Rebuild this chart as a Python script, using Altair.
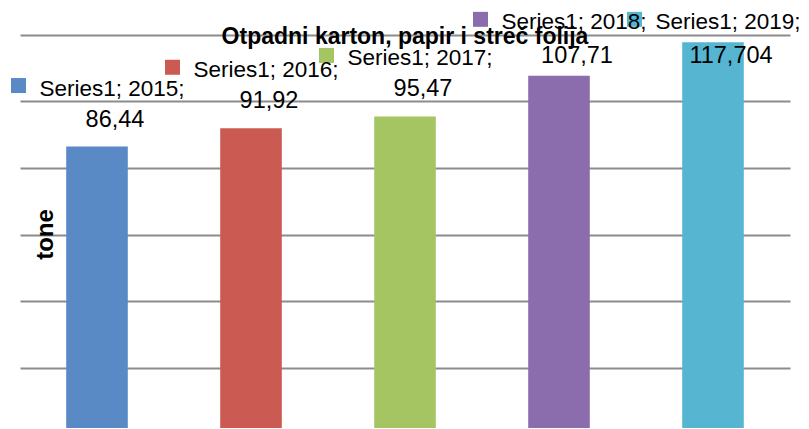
import altair as alt
import pandas as pd

years = ["2015", "2016", "2017", "2018", "2019"]
values = [86.44, 91.92, 95.47, 107.71, 117.704]
series = ["Series1"] * 5
colors = ["#5a8ac6", "#cb5a53", "#a5c562", "#8b6dae", "#56b6d2"]
grid_values = [20, 40, 60, 80, 100, 120]

df = pd.DataFrame({"year": years, "value": values, "series": series})
df["key"] = df["series"] + "; " + df["year"] + ";"
df["label"] = [str(v).replace(".", ",") for v in values]

FONT = "Liberation Sans"

x = alt.X("year:N", scale=alt.Scale(paddingInner=0.6, paddingOuter=0.3), axis=None)
color = alt.Color("year:N", scale=alt.Scale(domain=years, range=colors), legend=None)
yscale = alt.Scale(domain=[2, 128], nice=False, zero=False)

yaxis = alt.Axis(
    values=grid_values,
    grid=True,
    gridColor="#8c8c8c",
    gridWidth=2.2,
    labels=False,
    ticks=False,
    domain=False,
    titleFontSize=24,
    titleFont=FONT,
    titleFontWeight="bold",
    titleColor="#000000",
    titleX=32,
    titleY=226,
    titleAngle=270,
    titleAlign="center",
    titleBaseline="alphabetic",
)

base = alt.Chart(df)

bars = base.mark_bar(clip=True).encode(
    x=x,
    y=alt.Y("value:Q", scale=yscale, title="tone", axis=yaxis),
    color=color,
)

lab = base.transform_calculate(
    key_y="min(datum.value + 15.3, 121.6)",
    val_y="min(datum.value + 6.0, 111.6)",
    sq_y="min(datum.value + 15.3, 121.6) + 3",
)

keys = lab.mark_text(
    align="left", baseline="alphabetic", dx=-57.5,
    font=FONT, fontSize=22.5, color="#000000",
).encode(
    x=x,
    y=alt.Y("key_y:Q", scale=yscale, title="tone", axis=yaxis),
    text="key:N",
)

vals = lab.mark_text(
    align="center", baseline="alphabetic", dx=18,
    font=FONT, fontSize=23.5, color="#000000",
).encode(
    x=x,
    y=alt.Y("val_y:Q", scale=yscale, title="tone", axis=yaxis),
    text="label:N",
)

squares = lab.mark_point(shape="square", filled=True, size=225, opacity=1).encode(
    x=x,
    xOffset=alt.value(-47.7),
    y=alt.Y("sq_y:Q", scale=yscale, title="tone", axis=yaxis),
    color=color,
)

chart = alt.layer(bars, squares, keys, vals).properties(
    width=770,
    height=420,
    background="white",
    padding={"left": 12, "top": 0, "right": 11, "bottom": 0},
    autosize=alt.AutoSizeParams(type="none"),
    title=alt.TitleParams(
        "Otpadni karton, papir i streč folija",
        font=FONT,
        fontSize=23,
        fontWeight="bold",
        color="#000000",
        anchor="middle",
        frame="group",
        offset=0,
        dy=59,
        baseline="alphabetic",
    ),
).configure_view(stroke=None)

chart.save("out.html", embed_options={"renderer": "svg", "actions": False})
